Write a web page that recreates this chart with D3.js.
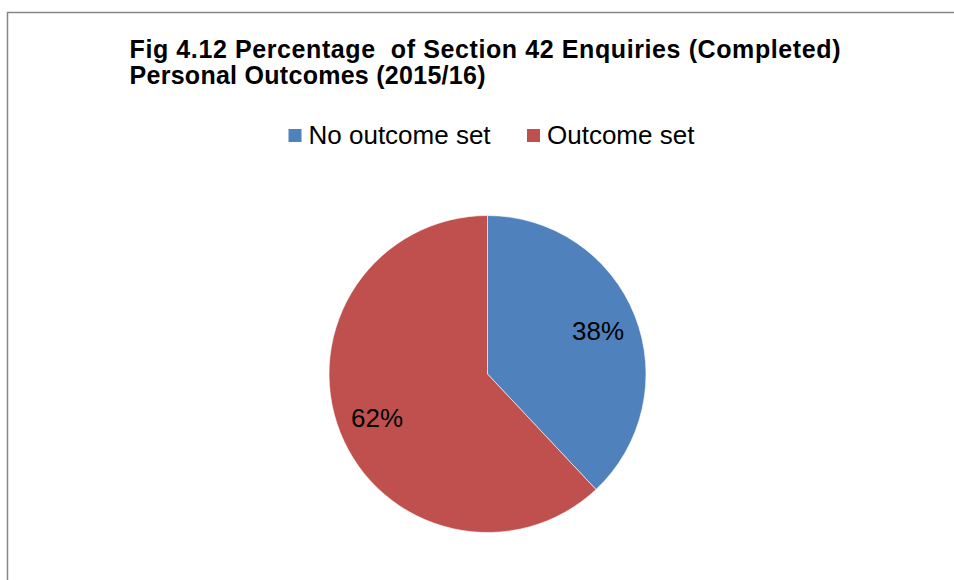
<!DOCTYPE html>
<html>
<head>
<meta charset="utf-8">
<script src="https://cdn.jsdelivr.net/npm/d3@7"></script>
<style>
  html, body { margin: 0; padding: 0; background: #fff; }
  svg { display: block; font-family: "Liberation Sans", Arial, sans-serif; }
</style>
</head>
<body>
<svg id="chart" width="954" height="580"></svg>
<script>
// Chart data
const categories = ["No outcome set", "Outcome set"];
const values = [38, 62];
const colors = ["#4F81BD", "#C0504D"];
const titleLines = [
  "Fig 4.12 Percentage  of Section 42 Enquiries (Completed)",
  "Personal Outcomes (2015/16)"
];

const svg = d3.select("#chart");

// Chart frame (runs off the right and bottom edge)
svg.append("rect")
  .attr("x", 7.5).attr("y", 12.5)
  .attr("width", 1000).attr("height", 700)
  .attr("fill", "#fff")
  .attr("stroke", "#868686")
  .attr("stroke-width", 1.5);

// Title, two lines, spaced out to the line widths
const titleWidths = [711, 356];
svg.selectAll("text.title")
  .data(titleLines)
  .join("text")
  .attr("class", "title")
  .attr("x", 129.5)
  .attr("y", (d, i) => 57.5 + i * 26.5)
  .attr("font-size", 25)
  .attr("font-weight", "bold")
  .attr("fill", "#000")
  .attr("textLength", (d, i) => titleWidths[i])
  .attr("lengthAdjust", "spacing")
  .style("white-space", "pre")
  .text(d => d);

// Legend
const legendItems = [
  { x: 288.5, label: categories[0], color: colors[0] },
  { x: 527, label: categories[1], color: colors[1] }
];
const legend = svg.append("g");
legendItems.forEach(d => {
  legend.append("rect")
    .attr("x", d.x).attr("y", 129)
    .attr("width", 13).attr("height", 13)
    .attr("fill", d.color);
  legend.append("text")
    .attr("x", d.x + 20).attr("y", 144.3)
    .attr("font-size", 26)
    .attr("fill", "#000")
    .text(d.label);
});

// Pie
const cx = 487.5, cy = 374, r = 158.5;
const total = d3.sum(values);
const pie = d3.pie().sort(null).value(d => d.value);
const data = categories.map((c, i) => ({ category: c, value: values[i], color: colors[i] }));
const arcs = pie(data);

const arc = d3.arc().innerRadius(0).outerRadius(r);
const labelArc = d3.arc().innerRadius(r * 0.75).outerRadius(r * 0.75);

const g = svg.append("g").attr("transform", `translate(${cx},${cy})`);

g.selectAll("path.slice")
  .data(arcs)
  .join("path")
  .attr("class", "slice")
  .attr("d", arc)
  .attr("fill", d => d.data.color)
  .attr("stroke", "#fff")
  .attr("stroke-width", 0.6);

g.selectAll("text.pct")
  .data(arcs)
  .join("text")
  .attr("class", "pct")
  .attr("transform", d => {
    const [x, y] = labelArc.centroid(d);
    return `translate(${x},${y})`;
  })
  .attr("text-anchor", "middle")
  .attr("dy", "0.36em")
  .attr("font-size", 26)
  .attr("fill", "#000")
  .text(d => Math.round(d.data.value / total * 100) + "%");
</script>
</body>
</html>
